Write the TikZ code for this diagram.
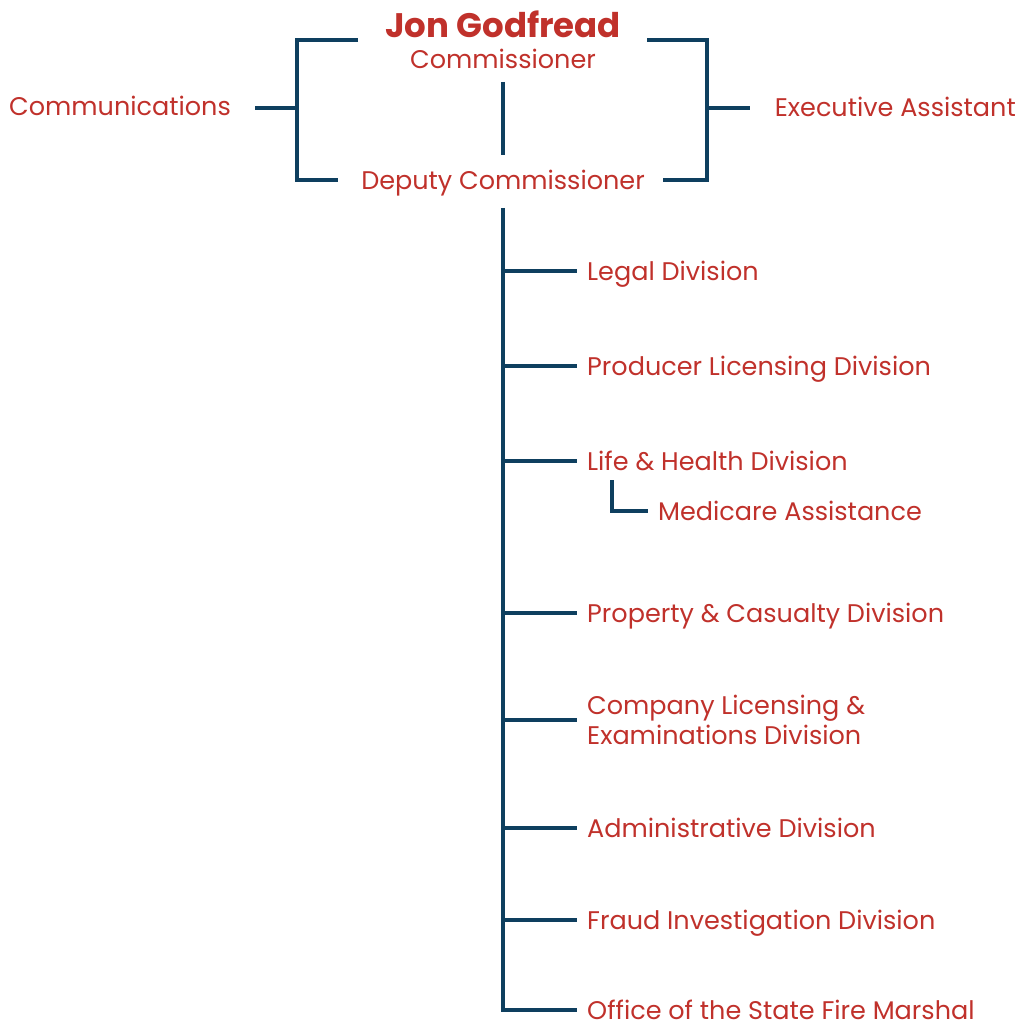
\documentclass[tikz,border=0pt]{standalone}
\usepackage{fontspec}
\setmainfont{Poppins}
\usetikzlibrary{positioning}
\definecolor{ndred}{HTML}{C0312B}
\definecolor{ndblue}{HTML}{0E3F5F}

\begin{document}
\begin{tikzpicture}[x=1pt, y=-1pt,
                    link/.style={draw=ndblue, line width=4.5pt},
                    division/.style={anchor=west, inner xsep=10pt},
                    every node/.style={font=\fontsize{25.5}{30}\selectfont, text=ndred, inner sep=0pt, text depth=0pt, align=left}]

    \useasboundingbox (0,0) rectangle (1019,1024);

    % Top of the chart
    \node (head) at (503,24) {\fontsize{34}{38}\selectfont\bfseries Jon Godfread};
    \node (commissioner) at (503,59) {Commissioner};
    \node (deputy) at (503,180) {Deputy Commissioner};
    \node[anchor=west] (communications) at (9,106) {Communications};
    \node[anchor=east] (assistant) at (1016,107) {Executive Assistant};

    % Brackets round the commissioners
    \coordinate (ltop) at (358,40);
    \coordinate (lbot) at (338,180);
    \coordinate (lmid) at (297,108);
    \coordinate (lend) at (255,108);
    \coordinate (rtop) at (647,40);
    \coordinate (rbot) at (663,180);
    \coordinate (rmid) at (707,108);
    \coordinate (rend) at (750,108);
    \draw[link] (ltop) -| (lmid) |- (lbot);
    \draw[link] (lmid) -- (lend);
    \draw[link] (rtop) -| (rmid) |- (rbot);
    \draw[link] (rmid) -- (rend);

    \coordinate (ctop) at (503,82);
    \coordinate (cbot) at (503,155);
    \draw[link] (ctop) -- (cbot);

    % Divisions
    \foreach \name/\ypos/\txt in {legal/271/{Legal Division},
                                  producer/366/{Producer Licensing Division},
                                  life/461/{Life \& Health Division},
                                  property/613/{Property \& Casualty Division},
                                  company/720/{Company Licensing \&\\Examinations Division},
                                  admin/828/{Administrative Division},
                                  fraud/920/{Fraud Investigation Division},
                                  fire/1010/{Office of the State Fire Marshal}}
    {
        \node[division] (\name) at (577,\ypos) {\txt};
    }

    \coordinate (trunk) at (503,208);
    \draw[link] (trunk) |- (fire.west);
    \foreach \name in {legal, producer, life, property, company, admin, fraud}
        \draw[link] (trunk |- \name.west) -- (\name.west);

    % Sub unit of Life & Health
    \node[division] (medicare) at (648,511) {Medicare Assistance};
    \coordinate (subtop) at (612,480);
    \draw[link] (subtop) |- (medicare.west);

\end{tikzpicture}
\end{document}
